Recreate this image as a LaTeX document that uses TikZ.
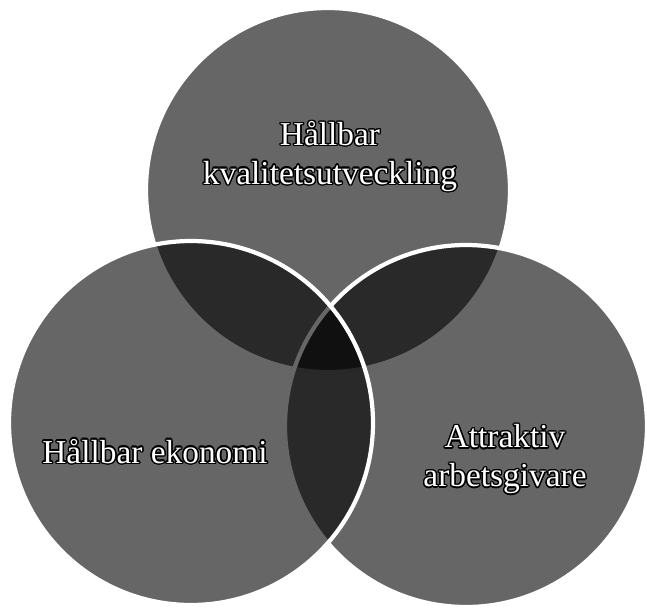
\documentclass[tikz,border=0pt]{standalone}
\usepackage{fontspec}
\setmainfont{Liberation Serif}
\usepackage[copies]{contour}
\contourlength{0.8pt}
\usetikzlibrary{positioning}
\tikzset{
  venncircle/.style={fill=black, fill opacity=0.6, draw=white, draw opacity=1, line width=2.4pt},
  venntext/.style={font=\fontsize{19}{22}\selectfont, align=center, inner sep=0pt}
}
\newcommand{\ringtext}[1]{\contour{black}{\textcolor{white}{#1}}}

\begin{document}
\begin{tikzpicture}[x=0.02cm, y=-0.02cm]
    \useasboundingbox (0, 0) rectangle (647, 609);

    % Three circles: top, right, then left on top
    \path[venncircle] (328, 190) circle[radius=182];
    \path[venncircle] (466, 426) circle[radius=181];
    \path[venncircle] (191, 423) circle[radius=182];

    % Labels
    \node[venntext] (kval) at (330, 157) {\ringtext{Hållbar}\\\ringtext{kvalitetsutveckling}};
    \node[venntext] (ekon) at (155, 452) {\ringtext{Hållbar ekonomi}};
    \node[venntext] (arbg) at (505, 460) {\ringtext{Attraktiv}\\\ringtext{arbetsgivare}};
\end{tikzpicture}
\end{document}
